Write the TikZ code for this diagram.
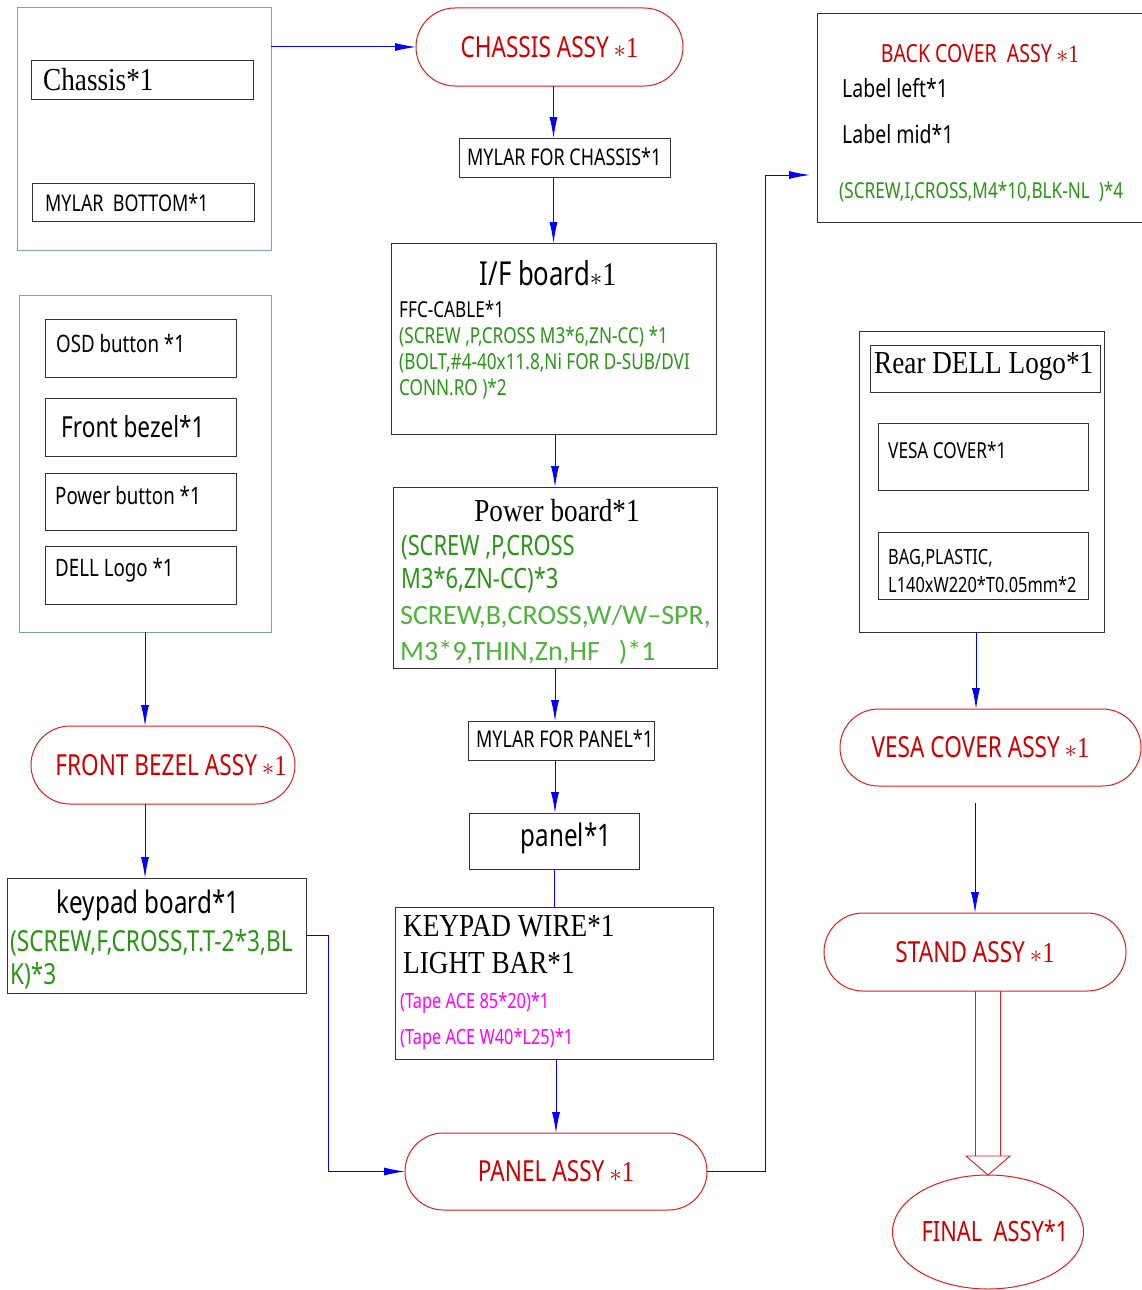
\documentclass[tikz,border=0pt]{standalone}
\usepackage{fontspec}
\setmainfont{Liberation Serif}
\newfontfamily\cad[FakeStretch=0.78]{Noto Sans}
\newfontfamily\tnr[FakeStretch=0.85]{Liberation Serif}
\newfontfamily\thn{Carlito}
\usetikzlibrary{arrows.meta,shapes.misc,shapes.geometric}
\newcommand\fsz[1]{\fontsize{#1}{#1}\selectfont}
\newcommand\sast{{\tnr\,$\ast$1}}
\definecolor{grpc}{RGB}{120,165,165}
\definecolor{boxc}{RGB}{50,50,50}
\definecolor{redt}{RGB}{204,0,0}
\definecolor{redl}{RGB}{222,30,30}
\definecolor{arrc}{RGB}{0,0,255}
\definecolor{grn}{RGB}{40,150,20}
\definecolor{lgrn}{RGB}{80,180,60}
\definecolor{mag}{RGB}{255,0,255}
\begin{document}
\begin{tikzpicture}[x=1pt,y=-1pt,
  grp/.style={draw=grpc,line width=1pt,inner sep=0pt,outer sep=0pt},
  bx/.style={draw=boxc,line width=1pt,inner sep=0pt,outer sep=0pt},
  assy/.style={rounded rectangle,draw=redl,line width=1pt,inner sep=0pt,outer sep=0pt,text=redt,font=\cad\fsz{29}},
  arr/.style={draw=arrc,line width=1pt,-{Latex[length=21pt,width=8pt]}},
  ln/.style={draw=arrc,line width=1pt},
  tx/.style={anchor=west,inner sep=0pt}]
\useasboundingbox (0,0) rectangle (1141,1290);
\fill[white] (0,0) rectangle (1141,1290);

% ---- chassis group
\node[grp,minimum width=254pt,minimum height=242pt] (cg) at (144,129) {};
\node[bx,minimum width=222pt,minimum height=38pt] (chb) at (142,80) {};
\node[tx,font=\tnr\fsz{32}] (cht) at (43,80) {Chassis*1};
\node[bx,minimum width=222pt,minimum height=38pt] (mbb) at (143,202) {};
\node[tx,font=\cad\fsz{23}] (mbt) at (45,203) {MYLAR\ \ BOTTOM*1};

% ---- center column
\node[assy,minimum width=267pt,minimum height=78pt] (ca) at (549.5,47) {CHASSIS ASSY\sast};
\node[bx,minimum width=211pt,minimum height=39pt] (mfc) at (564.5,157.5) {};
\node[tx,font=\cad\fsz{23}] (mfct) at (467,157) {MYLAR FOR CHASSIS*1};

\node[bx,minimum width=325pt,minimum height=191pt] (ifb) at (553.5,338.5) {};
\node[font=\cad\fsz{33},inner sep=0pt] (ift) at (548,273) {I/F board{\tnr$\ast$1}};
\node[tx,font=\cad\fsz{22}] (if1) at (399,309) {FFC-CABLE*1};
\node[tx,font=\cad\fsz{22},text=grn] (if2) at (399,337) {(SCREW ,P,CROSS M3*6,ZN-CC) *1};
\node[tx,font=\cad\fsz{22},text=grn] (if3) at (399,363) {(BOLT,\#4-40x11.8,Ni FOR D-SUB/DVI};
\node[tx,font=\cad\fsz{22},text=grn] (if4) at (399,389) {CONN.RO )*2};

\node[bx,minimum width=324pt,minimum height=181pt] (pwb) at (555,577.5) {};
\node[font=\tnr\fsz{32},inner sep=0pt] (pwt) at (557,511) {Power board*1};
\node[tx,font=\cad\fsz{28},text=grn] (pw1) at (401,548) {(SCREW ,P,CROSS};
\node[tx,font=\cad\fsz{28},text=grn] (pw2) at (401,580) {M3*6,ZN-CC)*3};
\node[tx,font=\thn\fsz{28},text=lgrn] (pw3) at (400,617) {SCREW,B,CROSS,W/W–SPR,};
\node[tx,font=\thn\fsz{28},text=lgrn] (pw4) at (400,652) {M3*9,THIN,Zn,HF\ \ \ )*1};

\node[bx,minimum width=186pt,minimum height=39pt] (mfp) at (561,740.5) {};
\node[tx,font=\cad\fsz{23}] (mfpt) at (476,739) {MYLAR FOR PANEL*1};

\node[bx,minimum width=170pt,minimum height=56pt] (pnl) at (554,841) {};
\node[font=\cad\fsz{31},inner sep=0pt] (pnlt) at (566,838) {panel*1};

\node[bx,minimum width=318pt,minimum height=152pt] (kw) at (554,983) {};
\node[tx,font=\tnr\fsz{32}] (kw1) at (403,926) {KEYPAD WIRE*1};
\node[tx,font=\tnr\fsz{32}] (kw2) at (403,963) {LIGHT BAR*1};
\node[tx,font=\cad\fsz{21},text=mag] (kw3) at (400,1003) {(Tape ACE 85*20)*1};
\node[tx,font=\cad\fsz{21},text=mag] (kw4) at (400,1039) {(Tape ACE W40*L25)*1};

\node[assy,minimum width=302pt,minimum height=77pt] (pa) at (556,1171.5) {PANEL ASSY\sast};

% ---- back cover
\node[bx,minimum width=334pt,minimum height=208pt] (bc) at (984,118) {};
\node[font=\cad\fsz{25},text=redt,inner sep=0pt] (bct) at (980,54) {BACK COVER\ \ ASSY\sast};
\node[tx,font=\cad\fsz{25}] (bc1) at (842,88) {Label left*1};
\node[tx,font=\cad\fsz{25}] (bc2) at (842,134) {Label mid*1};
\node[tx,font=\cad\fsz{22},text=grn] (bc3) at (839,192) {(SCREW,I,CROSS,M4*10,BLK-NL\ \ )*4};

% ---- front bezel group
\node[grp,minimum width=252pt,minimum height=337pt] (fbg) at (145,463.5) {};
\node[bx,minimum width=191pt,minimum height=58pt] (osd) at (140.5,348) {};
\node[tx,font=\cad\fsz{24}] (osdt) at (56,343) {OSD button *1};
\node[bx,minimum width=191pt,minimum height=58pt] (fbz) at (140.5,427) {};
\node[tx,font=\cad\fsz{29}] (fbzt) at (61,427) {Front bezel*1};
\node[bx,minimum width=191pt,minimum height=57pt] (pbt) at (140.5,501.5) {};
\node[tx,font=\cad\fsz{24}] (pbtt) at (55,495) {Power button *1};
\node[bx,minimum width=191pt,minimum height=58pt] (dl) at (140.5,575) {};
\node[tx,font=\cad\fsz{24}] (dlt) at (55,570) {DELL Logo *1};

\node[assy,minimum width=264pt,minimum height=78pt] (fba) at (163,765) {\hspace*{16pt}FRONT BEZEL ASSY\sast};

\node[bx,minimum width=299pt,minimum height=115pt] (kb) at (156.5,935.5) {};
\node[font=\cad\fsz{31},inner sep=0pt] (kbt) at (148,905) {keypad board*1};
\node[tx,font=\cad\fsz{29},text=grn] (kb1) at (10,943) {(SCREW,F,CROSS,T.T-2*3,BL};
\node[tx,font=\cad\fsz{29},text=grn] (kb2) at (10,976) {K)*3};

% ---- rear group
\node[bx,minimum width=245pt,minimum height=301pt] (rdg) at (981.5,481.5) {};
\node[bx,minimum width=230pt,minimum height=47pt] (rdl) at (985,368.5) {};
\node[tx,font=\tnr\fsz{32}] (rdlt) at (874,366) {Rear DELL Logo*1};
\node[bx,minimum width=210pt,minimum height=67pt] (vc) at (983,456.5) {};
\node[tx,font=\cad\fsz{22}] (vct) at (888,450) {VESA COVER*1};
\node[bx,minimum width=210pt,minimum height=67pt] (bag) at (983,565.5) {};
\node[tx,font=\cad\fsz{21}] (bag1) at (888,558) {BAG,PLASTIC,};
\node[tx,font=\cad\fsz{21}] (bag2) at (888,585) {L140xW220*T0.05mm*2};

\node[assy,minimum width=301pt,minimum height=77pt] (vca) at (990.5,747.5) {VESA COVER ASSY\sast\hspace*{20pt}};
\node[assy,minimum width=302pt,minimum height=78pt] (sa) at (975,952) {STAND ASSY\sast};
\node[ellipse,draw=redl,line width=1pt,inner sep=0pt,outer sep=0pt,minimum width=191pt,minimum height=114pt] (fa) at (988,1232) {};
\node[text=redt,font=\cad\fsz{28},inner sep=0pt] (fat) at (995,1231) {FINAL\ \ ASSY*1};

% ---- connectors
\coordinate (bcturn) at (765,175);
\coordinate (bcin) at (810,175);
\draw[arr] (cg.east |- ca.west) -- (ca.west);
\draw[arr] ([xshift=4pt]ca.south) -- ([xshift=4pt]ca.south |- mfc.north);
\draw[arr] (ifb.north |- mfc.south) -- (ifb.north);
\draw[arr] (pwb.north |- ifb.south) -- (pwb.north);
\draw[arr] (pwb.south) -- (pwb.south |- mfp.north);
\draw[arr] (pwb.south |- mfp.south) -- (pwb.south |- pnl.north);
\draw[ln] (pnl.south) -- (pnl.south |- kw.north);
\draw[arr] (pa.north |- kw.south) -- (pa.north);
\draw[arr] (pa.east) -- (pa.east -| bcturn) -- (bcturn) -- (bcin);
\draw[arr] (fbg.south) -- (fbg.south |- fba.north);
\draw[arr] (fbg.south |- fba.south) -- (fbg.south |- kb.north);
\draw[arr] (kb.east) -- ++(22,0) |- (pa.west);
\draw[arr] ([xshift=-5.5pt]rdg.south) -- ([xshift=-5.5pt]rdg.south |- vca.north);
\draw[arr] ([yshift=-17pt]vca.south -| sa.north) -- (sa.north);
% hollow arrow
\draw[redl,line width=0.9pt] ([xshift=-13pt]fa.north |- sa.south) -- ([xshift=-13pt,yshift=19pt]fa.north);
\draw[redl,line width=0.9pt] ([xshift=12pt]fa.north |- sa.south) -- ([xshift=12pt,yshift=19pt]fa.north);
\draw[redl,line width=0.9pt,fill=white] ([xshift=-22pt,yshift=19pt]fa.north) -- ([xshift=22pt,yshift=19pt]fa.north) -- (fa.north) -- cycle;
\end{tikzpicture}
\end{document}
